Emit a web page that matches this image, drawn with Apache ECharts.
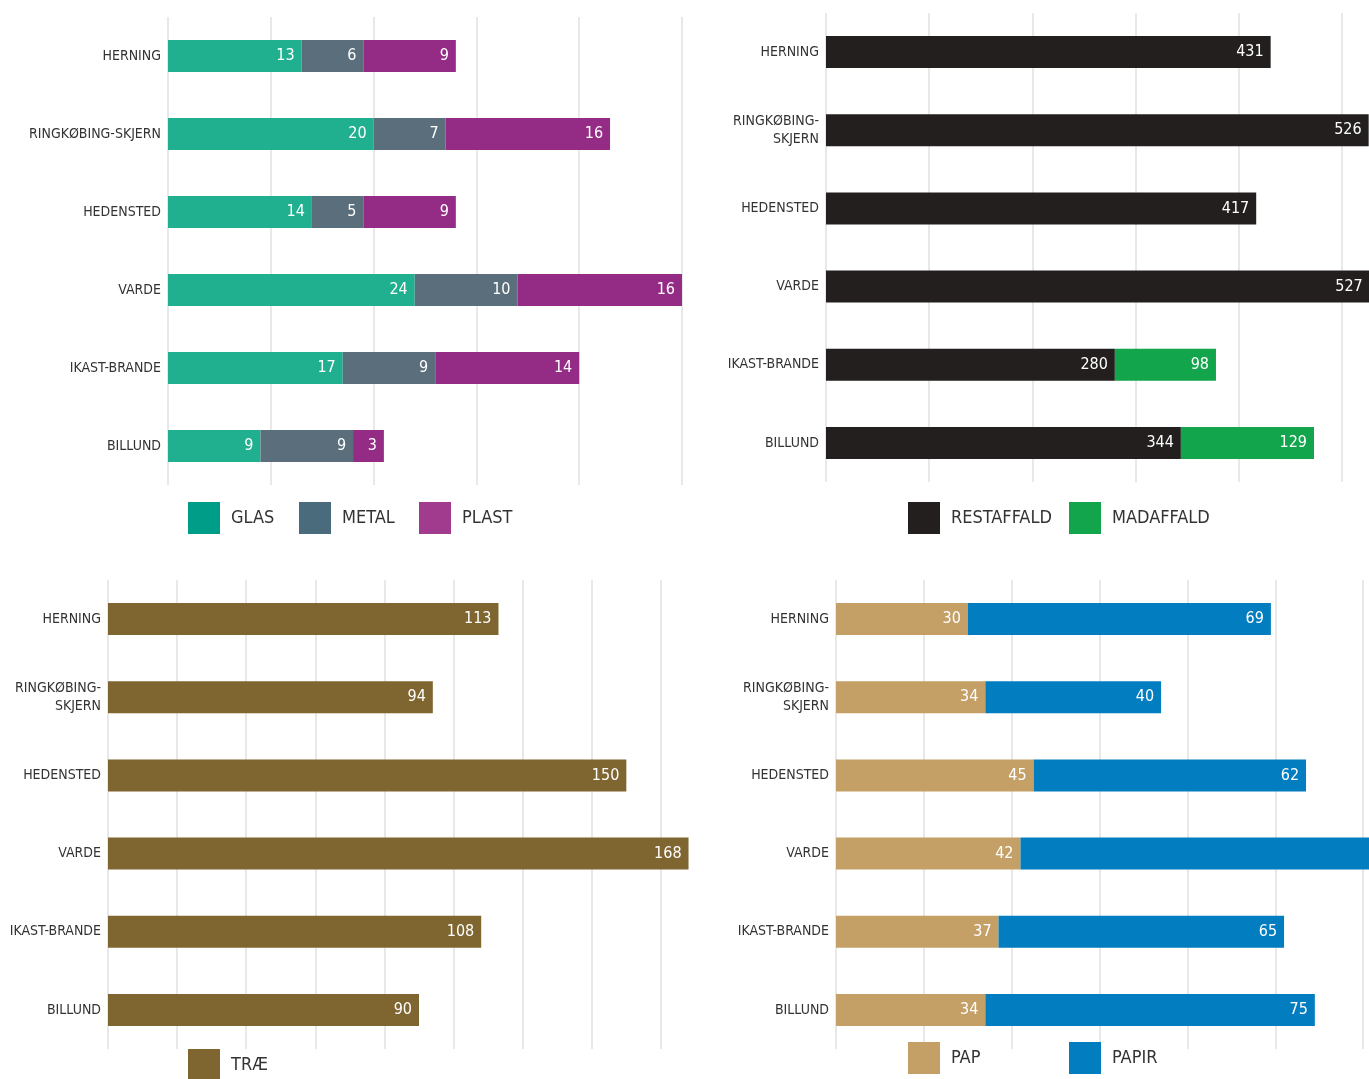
<!DOCTYPE html>
<html>
<head>
<meta charset="utf-8">
<script src="https://cdn.jsdelivr.net/npm/echarts@6/dist/echarts.min.js"></script>
<style>
  html, body { margin: 0; padding: 0; background: #fff; }
  #chart { width: 1369px; height: 1079px; }
</style>
</head>
<body>
<div id="chart"></div>
<script>
// kommuner (same order in all four panels)
const municipalities = ['HERNING', 'RINGKØBING-SKJERN', 'HEDENSTED', 'VARDE', 'IKAST-BRANDE', 'BILLUND']

// panel 1: glas / metal / plast
const glas = [13, 20, 14, 24, 17, 9]
const metal = [6, 7, 5, 10, 9, 9]
const plast = [9, 16, 9, 16, 14, 3]
// panel 2: rest / mad
const restaffald = [431, 526, 417, 527, 280, 344]
const madaffald = [null, null, null, null, 98, 129]
// panel 3: træ
const trae = [113, 94, 150, 168, 108, 90]
// panel 4: pap / papir (Varde papir is cut off in the original, estimated)
const pap = [30, 34, 45, 42, 37, 34]
const papir = [69, 40, 62, 85, 65, 75]

// axis ranges [max, interval] per panel
const axisMax = [50, 600, 180, 140]
const axisStep = [10, 100, 20, 20]

const FONT = "'Liberation Sans Narrow', 'DejaVu Sans Condensed', 'Roboto', sans-serif"

// right-hand panels run past the page edge, like the original
const grids = [
  { left: 168, top: 17, width: 514, height: 468 },
  { left: 826, top: 13, width: 619, height: 469 },
  { left: 108, top: 580, width: 622, height: 469 },
  { left: 836, top: 580, width: 615, height: 469 }
].map(g => Object.assign(g, { outerBoundsMode: 'none', containLabel: false }))

function xAxis (i) {
  return {
    type: 'value',
    gridIndex: i,
    min: 0,
    max: axisMax[i],
    interval: axisStep[i],
    axisLabel: { show: false },
    axisLine: { show: false },
    axisTick: { show: false },
    splitLine: {
      show: true,
      showMaxLine: i === 0,
      lineStyle: { color: '#e8e8e8', width: 2 }
    }
  }
}

function yAxis (i, wrap) {
  return {
    type: 'category',
    gridIndex: i,
    inverse: true,
    data: municipalities,
    axisLine: { show: false },
    axisTick: { show: false },
    axisLabel: {
      color: '#333',
      fontFamily: FONT,
      fontSize: 14,
      lineHeight: 18,
      margin: 7,
      padding: [3, 0, 0, 0],
      formatter: v => wrap ? v.replace('RINGKØBING-', 'RINGKØBING-\n') : v
    }
  }
}

function bar (name, data, color, i) {
  return {
    name: name,
    type: 'bar',
    stack: 'p' + i,
    xAxisIndex: i,
    yAxisIndex: i,
    data: data,
    barWidth: 32,
    itemStyle: { color: color },
    label: {
      show: true,
      position: 'insideRight',
      distance: 7,
      color: '#fff',
      fontFamily: FONT,
      fontSize: 16,
      padding: [3, 0, 0, 0],
      formatter: p => p.value == null ? '' : p.value
    }
  }
}

// one legend per item so swatches land where the original has them
function legendItem (name, color, left, top) {
  return {
    left: left,
    top: top,
    orient: 'horizontal',
    selectedMode: false,
    icon: 'rect',
    itemWidth: 32,
    itemHeight: 32,
    padding: 0,
    data: [{ name: name, itemStyle: { color: color } }],
    textStyle: { color: '#333', fontFamily: FONT, fontSize: 18, padding: [0, 0, 0, 6] }
  }
}

const option = {
  animation: false,
  grid: grids,
  xAxis: [xAxis(0), xAxis(1), xAxis(2), xAxis(3)],
  yAxis: [yAxis(0, false), yAxis(1, true), yAxis(2, true), yAxis(3, true)],
  legend: [
    legendItem('GLAS', '#009e88', 188, 502),
    legendItem('METAL', '#4a6b7b', 299, 502),
    legendItem('PLAST', '#a03b8e', 419, 502),
    legendItem('RESTAFFALD', '#231f1e', 908, 502),
    legendItem('MADAFFALD', '#13a54b', 1069, 502),
    legendItem('TRÆ', '#7f6530', 188, 1049),
    legendItem('PAP', '#c4a067', 908, 1042),
    legendItem('PAPIR', '#027dc0', 1069, 1042)
  ],
  series: [
    bar('GLAS', glas, '#20b08f', 0),
    bar('METAL', metal, '#5a6f7b', 0),
    bar('PLAST', plast, '#942b84', 0),
    bar('RESTAFFALD', restaffald, '#231f1e', 1),
    bar('MADAFFALD', madaffald, '#13a54b', 1),
    bar('TRÆ', trae, '#7f6530', 2),
    bar('PAP', pap, '#c4a067', 3),
    bar('PAPIR', papir, '#027dc0', 3)
  ]
}

const myChart = echarts.init(document.getElementById('chart'))
myChart.setOption(option)
</script>
</body>
</html>
